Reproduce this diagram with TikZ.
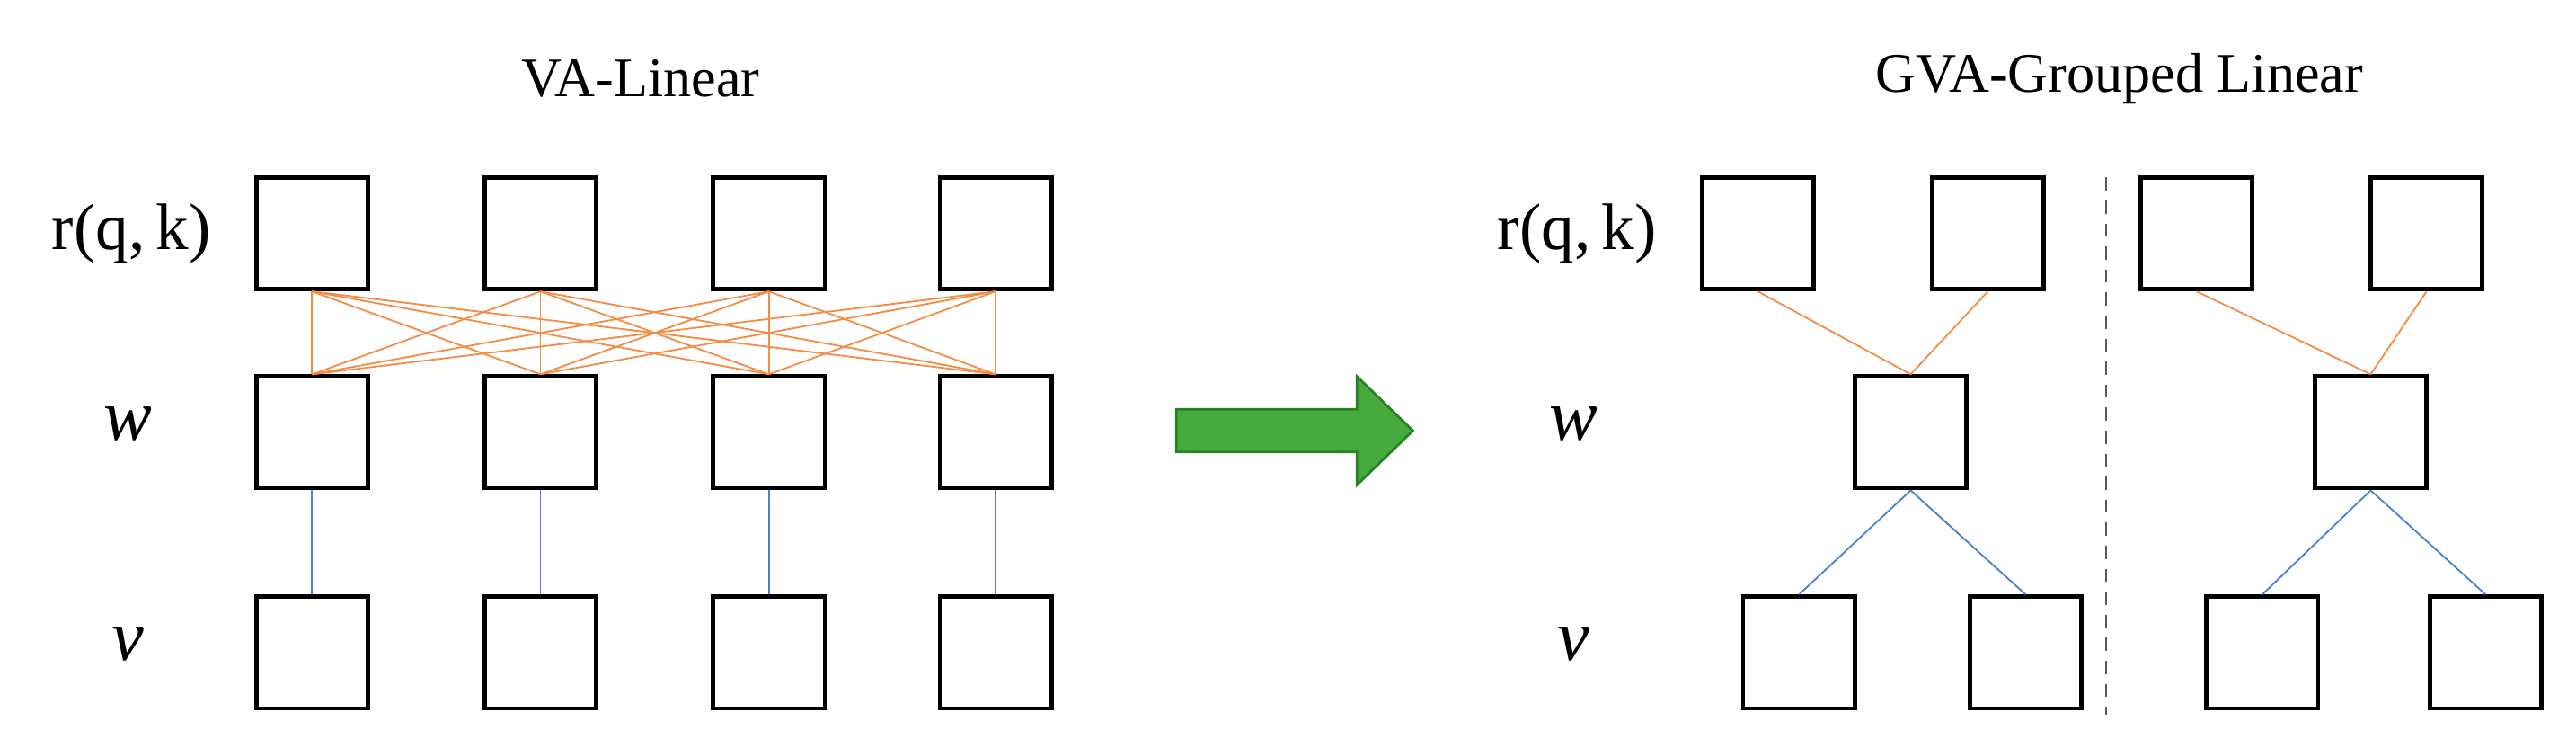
\documentclass[tikz,border=0pt]{standalone}
\usepackage{fontspec}
\setmainfont{Liberation Serif}
\begin{document}
\begin{tikzpicture}[x=1pt,y=-1pt,
  bx/.style={draw,line width=2.6pt,minimum size=68pt,inner sep=0pt},
  og/.style={draw={rgb,255:red,245;green,140;blue,70},line width=1pt},
  bl/.style={draw={rgb,255:red,70;green,130;blue,210},line width=1pt},
  lab/.style={font=\fontsize{40}{44}\selectfont},
  ilab/.style={font=\fontsize{44}{48}\selectfont\itshape},
  ttl/.style={font=\fontsize{34}{40}\selectfont}]
\useasboundingbox (0,0) rectangle (1568,455);
\node[ttl] (t1) at (390,48) {VA-Linear};
\node[ttl] (t2) at (1290,48) {GVA-Grouped Linear};
\foreach \i/\x in {1/190,2/329,3/468,4/606}{
  \node[bx] (a\i) at (\x,142) {};
  \node[bx] (b\i) at (\x,263) {};
  \node[bx] (c\i) at (\x,397) {};
  \draw[bl] (b\i.south) -- (c\i.north);
}
\foreach \i in {1,...,4}{\foreach \j in {1,...,4}{\draw[og] (a\i.south) -- (b\j.north);}}
\node[lab] (l1) at (80,142) {r(q,\,k)};
\node[ilab] (l2) at (78,258) {w};
\node[ilab] (l3) at (78,392) {v};
\node[lab] (r1) at (960,142) {r(q,\,k)};
\node[ilab] (r2) at (958,258) {w};
\node[ilab] (r3) at (958,392) {v};
\node[bx] (p1) at (1070,142) {};
\node[bx] (p2) at (1210,142) {};
\node[bx] (pw) at (1163,263) {};
\node[bx] (pv1) at (1095,397) {};
\node[bx] (pv2) at (1233,397) {};
\node[bx] (q1) at (1337,142) {};
\node[bx] (q2) at (1477,142) {};
\node[bx] (qw) at (1443,263) {};
\node[bx] (qv1) at (1377,397) {};
\node[bx] (qv2) at (1513,397) {};
\draw[og] (p1.south) -- (pw.north);
\draw[og] (p2.south) -- (pw.north);
\draw[og] (q1.south) -- (qw.north);
\draw[og] (q2.south) -- (qw.north);
\draw[bl] (pw.south) -- (pv1.north);
\draw[bl] (pw.south) -- (pv2.north);
\draw[bl] (qw.south) -- (qv1.north);
\draw[bl] (qw.south) -- (qv2.north);
\coordinate (d1) at (1282,108);
\coordinate (d2) at (1282,435);
\draw[line width=1pt,gray!70!black,dash pattern=on 8pt off 6pt] (d1) -- (d2);
\draw[draw={rgb,255:red,40;green,130;blue,40},fill={rgb,255:red,70;green,170;blue,60},line width=1.5pt,line join=miter]
  (716,249) -- (826,249) -- (826,229) -- (860,262) -- (826,295) -- (826,275) -- (716,275) -- cycle;
\end{tikzpicture}
\end{document}
